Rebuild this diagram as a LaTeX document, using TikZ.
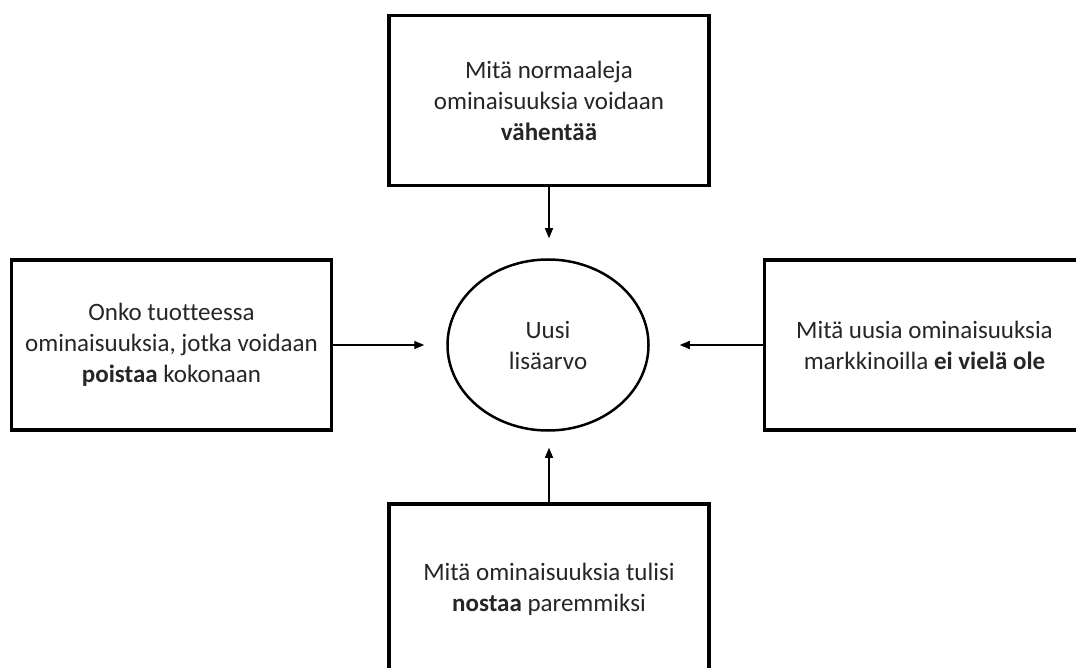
\documentclass[tikz,border=0pt]{standalone}
\usepackage{fontspec}
\setmainfont{Carlito}[Ligatures={NoCommon}]
\usetikzlibrary{arrows.meta,shapes.geometric}
\begin{document}
\begin{tikzpicture}[x=1pt,y=-1pt,
  qbox/.style={draw=black, line width=3.5pt, rectangle, inner sep=0pt,
    minimum width=320pt, minimum height=170pt, align=center,
    font=\fontsize{25pt}{31pt}\selectfont, text=black!85},
  hub/.style={draw=black, line width=2.5pt, ellipse, inner sep=0pt,
    minimum width=201pt, minimum height=171pt, align=center,
    font=\fontsize{25pt}{31pt}\selectfont, text=black!85},
  feed/.style={draw=black, line width=1.3pt, -{Triangle[length=10pt,width=8pt]}}]
\useasboundingbox (0,0) rectangle (1076,668);
\clip (0,0) rectangle (1076,668);
\fill[white] (0,0) rectangle (1076,668);

% central value node
\node[hub] (ell) at (548,345) {Uusi\\lisäarvo};

% four question boxes
\node[qbox] (top) at (549,100.5) {Mitä normaaleja\\ominaisuuksia voidaan\\\textbf{vähentää}};
\node[qbox] (left) at (171.5,345) {Onko tuotteessa\\ominaisuuksia, jotka voidaan\\\textbf{poistaa} kokonaan};
\node[qbox] (right) at (924.5,345) {Mitä uusia ominaisuuksia\\markkinoilla \textbf{ei vielä ole}};
\node[qbox] (bottom) at (549,589) {Mitä ominaisuuksia tulisi\\\textbf{nostaa} paremmiksi};

% arrows towards the centre
\draw[feed, shorten >=20pt] (top.south) -- (top.south |- ell.north);
\draw[feed, shorten >=22pt] (left.east) -- (left.east -| ell.west);
\draw[feed, shorten >=30pt] (right.west) -- (right.west -| ell.east);
\draw[feed, shorten >=16pt] (bottom.north) -- (bottom.north |- ell.south);
\end{tikzpicture}
\end{document}
